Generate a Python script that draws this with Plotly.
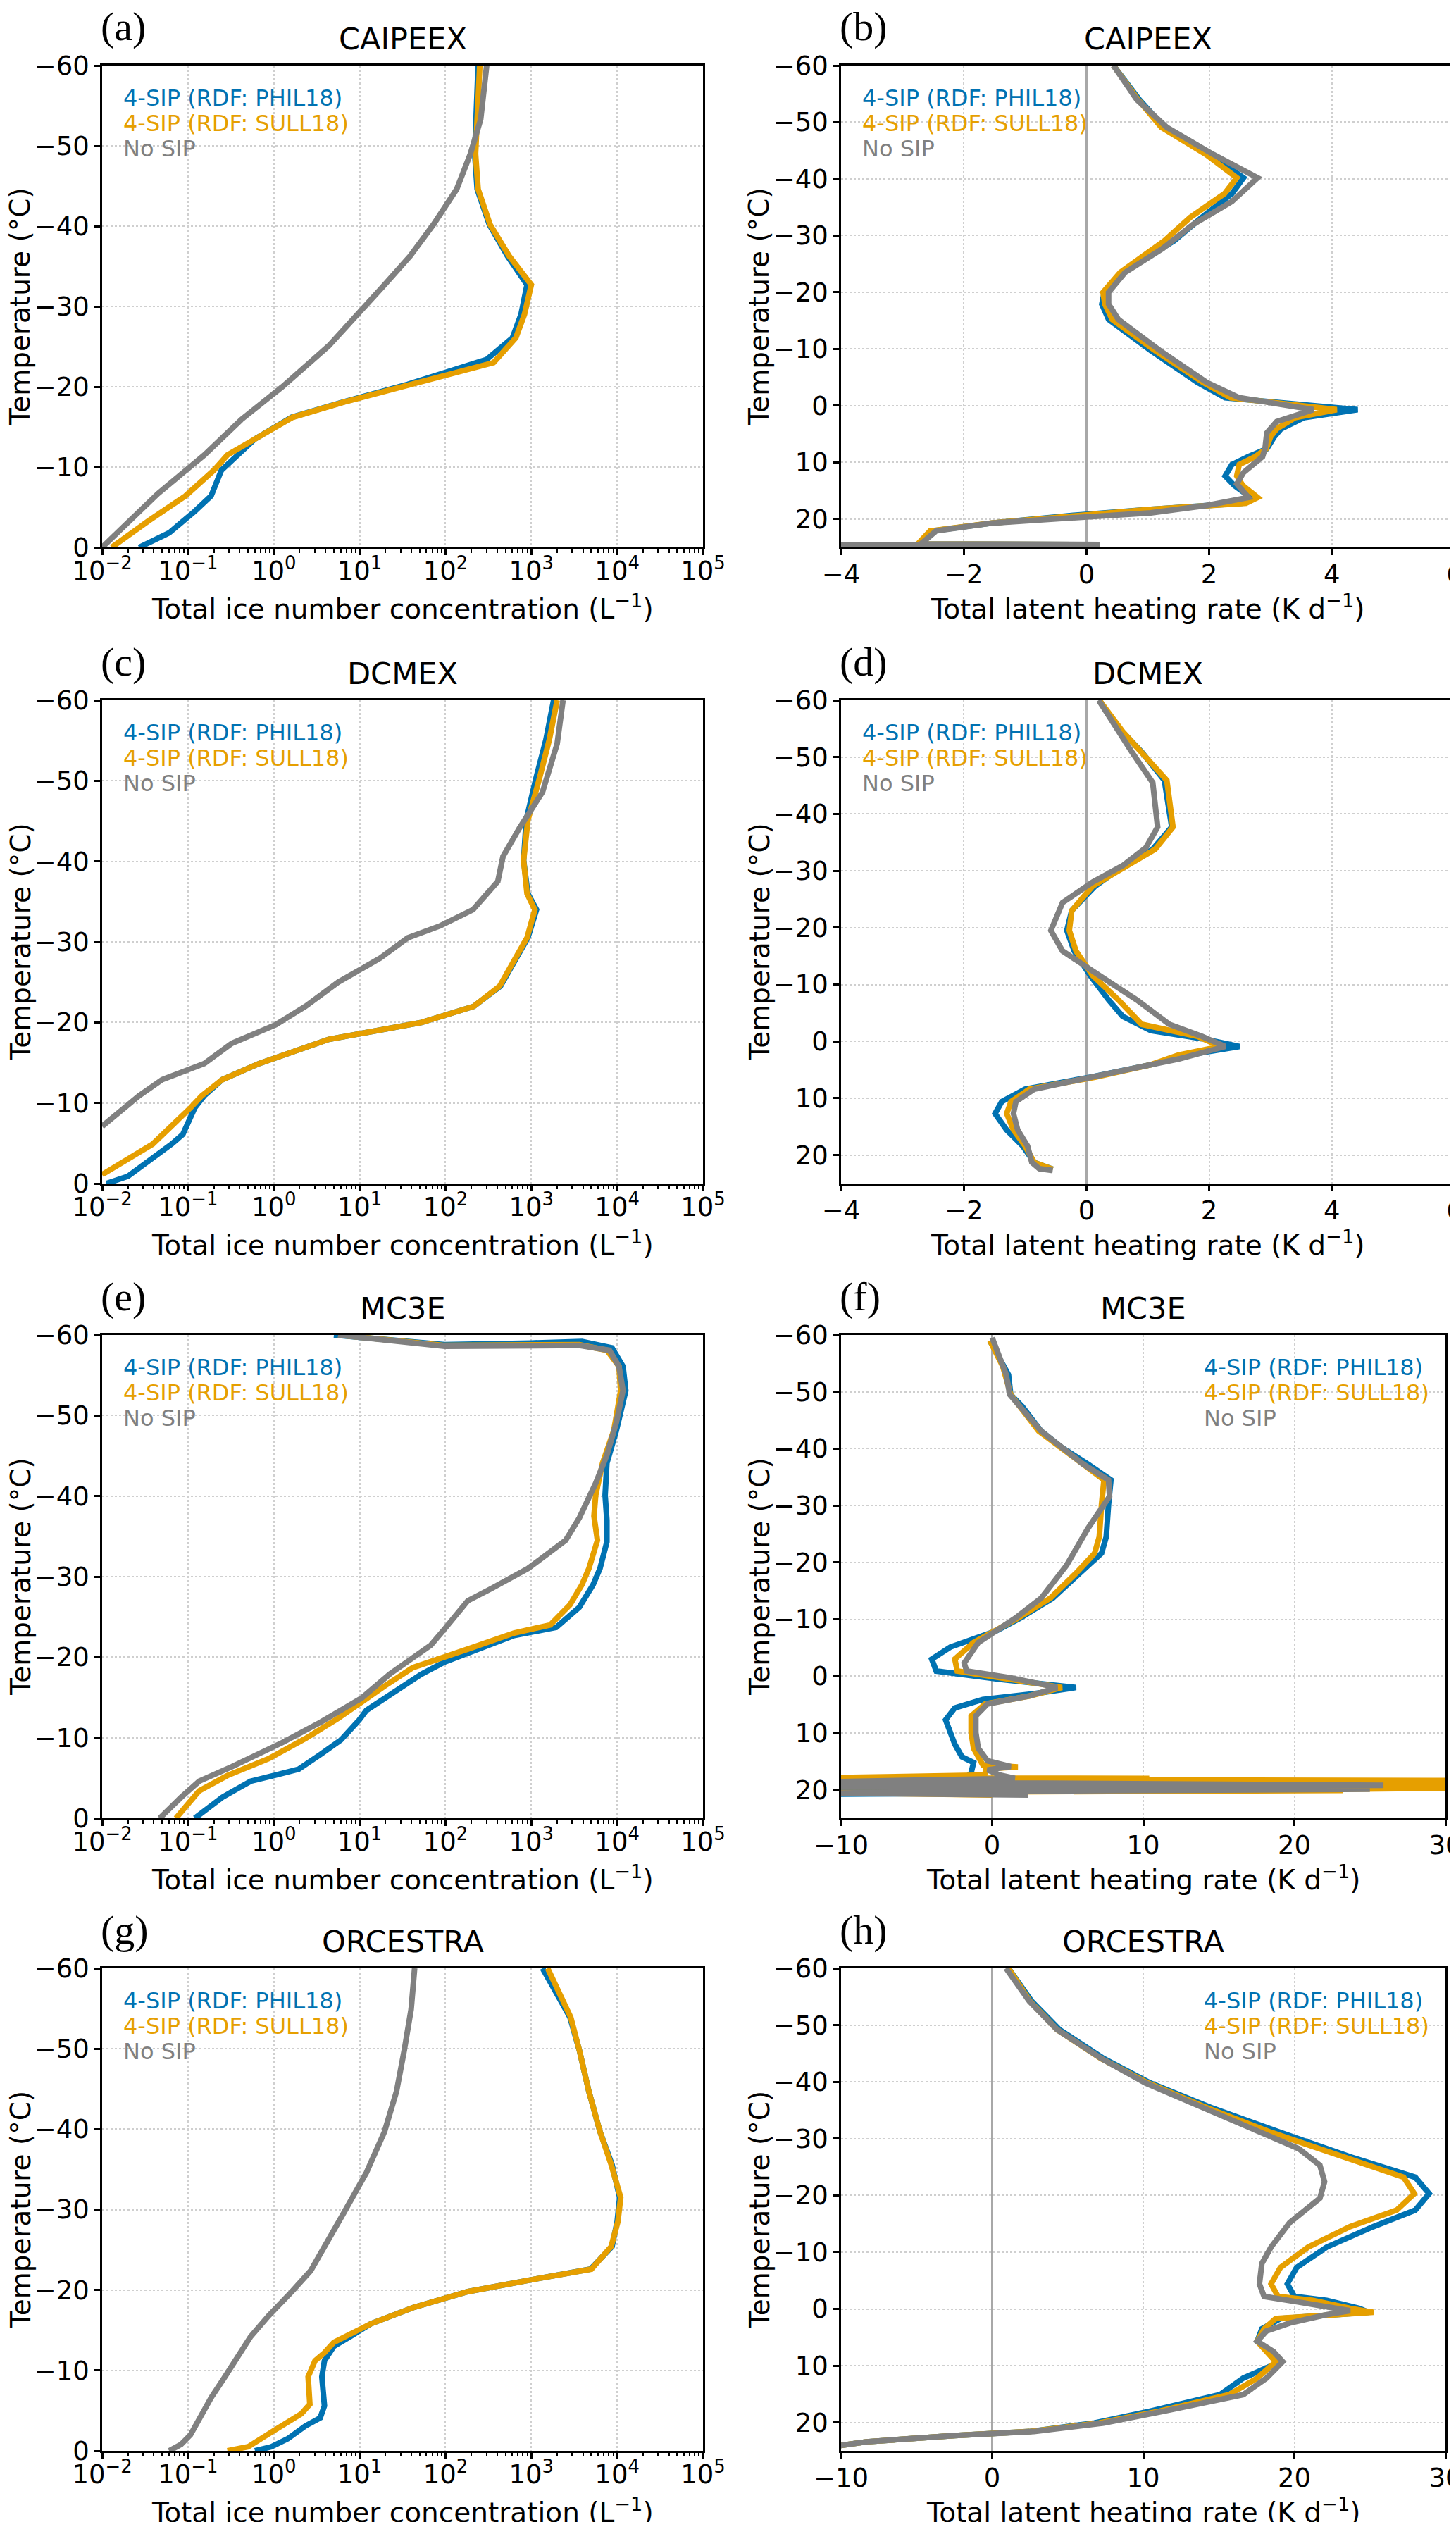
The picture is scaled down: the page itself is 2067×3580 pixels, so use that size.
import plotly.graph_objects as go

W, H = 2067, 3580

BLUE = "#0072B2"
ORANGE = "#E69F00"
GREY = "#808080"

# ---------------- data ----------------
# (a) CAIPEEX - total ice number concentration (L-1) vs temperature (degC)
a_phil_t = [-60, -53.3, -49, -44.6, -40.2, -36.3, -32.7, -29, -26.1, -23.4, -20.3, -18.1, -16.2, -13.5, -11.5, -9.6, -6.4, -4.5, -1.8, 0]
a_phil_n = [240, 229, 219, 234, 324, 525, 891, 759, 603, 302, 36.3, 6.46, 1.62, 0.603, 0.372, 0.245, 0.186, 0.120, 0.0603, 0.0269]
a_sull_t = [-60, -53.3, -49, -44.6, -40.2, -36.3, -32.7, -29, -26.1, -23, -20.3, -18.1, -16.2, -13.5, -11.5, -9.6, -6.4, -3.3, 0]
a_sull_n = [251, 234, 224, 240, 331, 550, 1000, 832, 661, 363, 38.0, 6.61, 1.66, 0.603, 0.288, 0.200, 0.0933, 0.0347, 0.0129]
a_nosip_t = [-60, -53.3, -49, -44.6, -40.2, -36.3, -32.7, -29, -25.1, -20, -15.9, -11.5, -6.7, 0]
a_nosip_n = [302, 257, 195, 135, 72.4, 38.9, 19.5, 9.33, 4.37, 1.26, 0.417, 0.155, 0.0447, 0.0100]

# (b) CAIPEEX - total latent heating rate (K d-1)
b_phil_t = [-60, -54, -49.1, -44.3, -40.2, -37.4, -33.2, -29.1, -23.5, -20, -17.9, -15.2, -9.7, -4.1, -1.4, 0.7, 2.1, 4.1, 5.5, 7.6, 9.0,
            10.4, 12.4, 14.1, 16.2, 17.2, 18.3, 19.3, 20.7, 22.1, 23.5, 24.4, 24.5, 24.6]
b_phil_q = [0.44, 0.86, 1.27, 2.03, 2.56, 2.37, 1.88, 1.43, 0.59, 0.29, 0.25, 0.36, 1.05, 1.81, 2.26, 4.42, 3.55, 3.17, 3.06, 2.94, 2.64,
            2.37, 2.26, 2.41, 2.68, 2.53, 1.05, -0.17, -1.53, -2.52, -2.63, -2.65, 0.1, -5]
b_sull_t = [-60, -54, -49.1, -44.3, -40.2, -37.4, -33.2, -29.1, -23.5, -20, -17.9, -15.2, -9.7, -4.1, -1.4, 0.7, 2.1, 4.1, 5.5, 7.6, 9.0,
            10.4, 12.4, 14.1, 16.2, 17.2, 18.3, 19.3, 20.7, 22.1, 23.5, 24.4, 24.5, 24.6]
b_sull_q = [0.44, 0.84, 1.22, 1.95, 2.45, 2.25, 1.69, 1.27, 0.55, 0.27, 0.30, 0.42, 1.12, 1.90, 2.35, 4.08, 3.40, 3.10, 3.00, 2.93, 2.75,
            2.49, 2.45, 2.55, 2.79, 2.60, 1.05, -0.15, -1.55, -2.55, -2.67, -2.75, 0.0, -5]
b_nosip_t = [-60, -54, -49.1, -44.3, -40.2, -36, -31.9, -27.7, -23.5, -20, -17.9, -15.2, -9.7, -4.1, -1.4, 0.7, 2.8, 4.8, 7.6, 9.0,
             11.8, 13.8, 16.2, 17.6, 18.9, 19.6, 20.7, 22.1, 23.5, 24.4, 24.5, 24.6]
b_nosip_q = [0.44, 0.82, 1.31, 2.07, 2.79, 2.37, 1.73, 1.24, 0.63, 0.36, 0.36, 0.52, 1.20, 1.96, 2.49, 3.70, 3.10, 2.94, 2.91, 2.87,
             2.56, 2.45, 2.64, 1.96, 1.05, -0.02, -1.53, -2.45, -2.60, -2.70, 0.22, -5]

# (c) DCMEX - ice number
c_phil_t = [-60, -55.1, -50.1, -45.1, -40.1, -36, -34, -30.5, -27.5, -24.5, -22, -20, -17.9, -16.4, -14.9, -12.9, -10.9, -9.4, -6.1, -4.9, -2.4, -0.9, 0]
c_phil_n = [1820, 1480, 1120, 871, 813, 912, 1150, 912, 631, 437, 214, 52.5, 4.37, 1.62, 0.676, 0.251, 0.155, 0.120, 0.0871, 0.0646, 0.0309, 0.0200, 0.0112]
c_sull_t = [-60, -55.1, -50.1, -45.1, -40.1, -36, -34, -30.5, -27.5, -24.5, -22, -20, -17.9, -16.4, -14.9, -12.9, -10.9, -9.4, -6.4, -4.9, -1.1]
c_sull_n = [2000, 1620, 1230, 912, 813, 891, 1100, 891, 617, 427, 214, 52.5, 4.37, 1.62, 0.676, 0.251, 0.145, 0.107, 0.0537, 0.0389, 0.0100]
c_nosip_t = [-60, -54.6, -48.6, -44.1, -40.6, -37.5, -34, -32, -30.5, -28, -27, -25, -22, -19.7, -17.4, -14.9, -12.9, -10.9, -7.1]
c_nosip_n = [2340, 2000, 1350, 724, 468, 407, 209, 87.1, 36.3, 17.4, 12.0, 5.62, 2.34, 1.05, 0.324, 0.155, 0.0501, 0.0269, 0.0100]

# (d) DCMEX - latent heating
d_phil_t = [-60, -55.2, -50.9, -45.9, -37.7, -33.8, -30.2, -27.3, -23, -19.5, -15.9, -11.6, -7.3, -4.4, -1.9, -0.5, 0.9, 2.4, 4.1,
            6.3, 8.4, 10.6, 12.7, 15.6, 18.4, 21.3, 22.5]
d_phil_q = [0.21, 0.52, 0.90, 1.27, 1.39, 1.08, 0.52, 0.14, -0.24, -0.32, -0.20, 0.06, 0.36, 0.59, 1.05, 1.88, 2.49, 1.65, 1.05,
            0.06, -1.0, -1.38, -1.49, -1.30, -1.04, -0.85, -0.55]
d_sull_t = [-60, -54.5, -45.9, -37.7, -33.8, -27.3, -23, -19.5, -15.9, -11.6, -7.3, -3, -0.9, 0.9, 2.4, 4.1, 6.3, 8.4, 10.6, 12.7,
            15.6, 18.4, 21.3, 22.5]
d_sull_q = [0.21, 0.59, 1.31, 1.41, 1.12, 0.10, -0.24, -0.28, -0.17, 0.10, 0.52, 0.90, 1.81, 2.19, 1.50, 1.05, 0.14, -0.93, -1.23, -1.30,
            -1.19, -1.0, -0.85, -0.55]
d_nosip_t = [-60, -55.2, -50.9, -45.5, -37.7, -34.1, -30.9, -28, -24.4, -19.5, -15.9, -11.6, -7.3, -3, -0.9, 0.9, 3.1, 4.1, 6.3, 8.4,
             10.6, 12.7, 15.6, 18.4, 21.3, 22.4, 22.7]
d_nosip_q = [0.20, 0.48, 0.74, 1.08, 1.16, 0.97, 0.59, 0.10, -0.39, -0.58, -0.39, 0.21, 0.82, 1.35, 1.88, 2.26, 1.50, 1.05, 0.10, -0.85,
             -1.15, -1.19, -1.12, -0.96, -0.89, -0.77, -0.55]

# (e) MC3E - ice number
e_phil_t = [-60, -58.8, -59.0, -59.2, -58.4, -56.1, -53.1, -48.1, -44.1, -40.1, -37, -34.3, -31, -29, -26.2, -23.7, -22.7, -19.4,
            -17.9, -15.4, -13.4, -12.2, -9.7, -7.9, -6.1, -5.3, -4.6, -2.6, 0]
e_phil_n = [5.01, 97.7, 1000, 3890, 8710, 11700, 12600, 9770, 7590, 7240, 7590, 7590, 6310, 5250, 3630, 1950, 631, 97.7,
            52.5, 22.4, 12.0, 9.89, 6.03, 3.47, 1.95, 1.0, 0.537, 0.251, 0.120]
e_sull_t = [-60, -58.7, -58.8, -58.1, -56.1, -53.1, -48.1, -44.1, -40.1, -37.5, -34.5, -31, -29, -26.5, -24, -23, -21, -20, -18.7,
            -16.4, -15.2, -12.4, -9.9, -7.4, -5.3, -3.4, 0]
e_sull_n = [5.62, 97.7, 3630, 7590, 10500, 11000, 9120, 6760, 5620, 5370, 5890, 4680, 3890, 2820, 1660, 631, 182, 97.7, 41.7,
            19.5, 13.5, 5.62, 2.34, 0.871, 0.288, 0.135, 0.0724]
e_nosip_t = [-60, -58.6, -58.7, -58.1, -56.1, -53.1, -49.1, -45.1, -41.6, -37.3, -34.5, -31, -28.5, -27, -23.5, -21.5, -17.9, -14.9,
             -11.9, -9.4, -6.4, -4.6, -2.6, 0]
e_nosip_n = [5.62, 97.7, 3630, 8130, 10500, 11700, 9770, 7590, 5620, 3630, 2510, 912, 339, 182, 97.7, 67.6, 22.4, 10.5,
             3.47, 1.26, 0.324, 0.135, 0.0832, 0.0468]

# (f) MC3E - latent heating
f_phil_t = [-59, -54.5, -53, -49.5, -47.4, -43.1, -40.2, -37.3, -34.5, -30.2, -24.5, -21.6, -18.1, -13.7, -10.2, -8, -5.1, -3, -0.9, 0.6,
            2, 3.1, 4.1, 5.6, 7.7, 9.9, 12, 14.2, 15.2, 17, 17.6, 17.9, 18.0, 19.4, 19.4, 19.6, 20.5, 20.8]
f_phil_q = [-0.15, 0.77, 1.08, 1.23, 2.0, 3.24, 4.62, 6.32, 7.86, 7.70, 7.55, 7.24, 5.86, 4.0, 1.85, 0.31, -2.77, -4.0, -3.70, 0.62,
            5.55, 2.77, -0.62, -2.47, -3.08, -2.77, -2.47, -2.0, -1.23, -1.39, -1.6, -8.3, -1.3, -1.0, 35, -12, 2, -12]
f_sull_t = [-59, -54.5, -49.5, -43.1, -37.3, -34.5, -30.2, -24.5, -21.6, -18.1, -13.7, -10.2, -5.9, -3, -0.9, 0.6, 2, 3.5, 4.9, 7,
            9.9, 12.7, 15.6, 16.0, 16.3, 17.4, 17.9, 18.0, 18.2, 18.4, 18.9, 19.6, 20.0, 20.1, 20.5, 20.9]
f_sull_q = [-0.15, 0.70, 1.23, 3.08, 6.01, 7.40, 7.24, 7.09, 6.78, 5.55, 3.85, 1.70, -1.23, -2.47, -2.31, 1.23, 4.62, 2.47, -0.46, -1.39,
            -1.39, -1.23, -0.62, 1.70, -0.4, -0.5, -11, 10.4, -11, 35, -11, 35, 18.5, 23.2, -11, 0]
f_nosip_t = [-59.5, -53.1, -49.5, -43.1, -37.3, -34.5, -31.6, -25.9, -19.5, -13.7, -10.2, -5.9, -2.3, -0.9, 0.3, 2, 3.5, 4.9, 7, 9.9,
             12.7, 14.9, 15.9, 16.5, 17.4, 18.0, 18.6, 18.9, 19.2, 19.5, 19.9, 20.2, 20.6, 20.9]
f_nosip_q = [0.0, 0.92, 1.17, 3.24, 6.01, 7.70, 7.77, 6.32, 4.93, 3.24, 1.54, -0.92, -1.85, -1.69, 1.23, 4.31, 2.47, -0.31, -1.08, -1.08,
             -0.92, -0.31, 1.23, -0.3, 0.5, 1.5, -11, 2.4, 25.9, -11, 25, 2.4, -11, 2.4]

# (g) ORCESTRA - ice number
g_phil_t = [-60, -57, -53.9, -49.8, -44.7, -39.7, -35.6, -31.5, -28.5, -25.4, -22.6, -21.4, -19.8, -17.8, -15.8, -14.2, -13, -11.2,
            -9.2, -5.6, -4.1, -3.1, -1.5, -0.5, 0]
g_phil_n = [1350, 1950, 2820, 3630, 4680, 6310, 8710, 10700, 10000, 8710, 4900, 1170, 182, 41.7, 13.5, 7.76, 5.01, 3.89,
            3.63, 3.89, 3.47, 2.34, 1.45, 0.933, 0.603]
g_sull_t = [-60, -57, -53.9, -49.8, -44.7, -39.7, -35.6, -31.5, -28.5, -25.4, -22.6, -21.4, -19.8, -17.8, -15.8, -13.5, -12.2, -11.2,
            -9.2, -5.8, -4.6, -2.5, -0.5, 0]
g_sull_n = [1550, 2090, 2880, 3630, 4680, 6310, 8510, 11000, 10200, 8510, 5010, 1170, 182, 41.7, 13.5, 5.01, 3.89, 3.02,
            2.51, 2.63, 2.09, 1.0, 0.501, 0.288]
g_nosip_t = [-60, -54.9, -49.8, -44.7, -39.7, -34.6, -29.5, -25.4, -22.4, -19.8, -16.8, -14.2, -11.7, -9.2, -6.6, -4.1, -2, -0.8, 0]
g_nosip_n = [43.7, 39.8, 33.1, 26.9, 19.5, 12.0, 6.46, 3.89, 2.69, 1.62, 0.871, 0.537, 0.372, 0.269, 0.186, 0.135, 0.107, 0.0832, 0.0603]

# (h) ORCESTRA - latent heating
h_phil_t = [-60, -54.2, -49.2, -44.1, -39.8, -35.5, -31.1, -26.8, -23.2, -20.3, -17.4, -14.5, -10.9, -7.3, -4.4, -2.2, -1.5, -0.1,
            0.6, 1.7, 3.5, 5.7, 7.5, 9.3, 12.2, 15.1, 18, 20.1, 21.6, 22.3, 23.4, 24.1, 24.8]
h_phil_q = [1.08, 2.62, 4.46, 7.38, 10.46, 14.46, 19.08, 23.69, 28.0, 28.92, 28.0, 25.23, 22.15, 20.15, 19.54, 20.0, 22.15, 24.31,
            24.92, 19.08, 17.85, 17.54, 18.31, 19.08, 16.62, 15.08, 10.46, 6.77, 2.46, -2.46, -8.31, -10.5, -12]
h_sull_t = [-60, -54.2, -49.2, -44.1, -39.8, -35.5, -31.1, -26.8, -23.2, -20.3, -17.4, -14.5, -10.9, -7.3, -4.4, -2.2, -1.5, -0.1,
            0.6, 1.7, 3.5, 5.7, 7.5, 9.3, 12.2, 15.1, 18, 20.1, 21.6, 22.3, 23.4, 24.1, 24.8]
h_sull_q = [1.08, 2.50, 4.30, 7.20, 10.30, 14.15, 18.46, 23.08, 27.23, 27.94, 26.77, 23.69, 20.92, 19.08, 18.46, 18.92, 21.23, 23.69,
            25.23, 18.77, 18.0, 17.54, 18.15, 18.77, 17.54, 15.69, 11.08, 7.08, 2.46, -2.46, -8.31, -10.5, -12]
h_nosip_t = [-60, -54.2, -49.2, -44.1, -39.8, -35.5, -31.1, -28.2, -25.3, -22.4, -19.5, -15.2, -10.9, -8, -4.4, -2.2, -1.2, 0.3,
             1, 2.5, 3.9, 5.7, 7.5, 9.3, 12.2, 15.1, 18, 20.1, 21.6, 22.3, 23.4, 24.1, 24.8]
h_nosip_q = [0.92, 2.46, 4.30, 7.23, 10.15, 13.85, 17.85, 20.31, 21.69, 22.0, 21.69, 19.69, 18.46, 17.85, 17.69, 18.0, 20.31, 23.69,
             22.15, 19.69, 18.15, 17.54, 18.62, 19.23, 18.15, 16.62, 11.38, 7.38, 2.77, -2.46, -8.31, -10.5, -12]

campaigns = ["CAIPEEX", "DCMEX", "MC3E", "ORCESTRA"]
series_names = ["4-SIP (RDF: PHIL18)", "4-SIP (RDF: SULL18)", "No SIP"]
series_colors = [BLUE, ORANGE, GREY]
ice_tickvals = [1e-2, 1e-1, 1e0, 1e1, 1e2, 1e3, 1e4, 1e5]
ice_ticktext = ["10<sup>−2</sup>", "10<sup>−1</sup>", "10<sup>0</sup>", "10<sup>1</sup>",
                "10<sup>2</sup>", "10<sup>3</sup>", "10<sup>4</sup>", "10<sup>5</sup>"]
x_title_ice = "Total ice number concentration (L<sup>−1</sup>)"
x_title_lh = "Total latent heating rate (K d<sup>−1</sup>)"
y_title = "Temperature (°C)"

panels = [
    ("a", 0, "ice", [(a_phil_t, a_phil_n), (a_sull_t, a_sull_n), (a_nosip_t, a_nosip_n)]),
    ("b", 0, "lh", [(b_phil_t, b_phil_q), (b_sull_t, b_sull_q), (b_nosip_t, b_nosip_q)]),
    ("c", 1, "ice", [(c_phil_t, c_phil_n), (c_sull_t, c_sull_n), (c_nosip_t, c_nosip_n)]),
    ("d", 1, "lh", [(d_phil_t, d_phil_q), (d_sull_t, d_sull_q), (d_nosip_t, d_nosip_q)]),
    ("e", 2, "ice", [(e_phil_t, e_phil_n), (e_sull_t, e_sull_n), (e_nosip_t, e_nosip_n)]),
    ("f", 2, "lh", [(f_phil_t, f_phil_q), (f_sull_t, f_sull_q), (f_nosip_t, f_nosip_q)]),
    ("g", 3, "ice", [(g_phil_t, g_phil_n), (g_sull_t, g_sull_n), (g_nosip_t, g_nosip_n)]),
    ("h", 3, "lh", [(h_phil_t, h_phil_q), (h_sull_t, h_sull_q), (h_nosip_t, h_nosip_q)]),
]

# plot boxes in pixels: left, right, top, bottom
boxes = {
    "a": (137, 990, 85, 769), "b": (1186, 2057, 85, 769),
    "c": (137, 990, 986, 1672), "d": (1186, 2057, 986, 1672),
    "e": (137, 990, 1887, 2573), "f": (1186, 2044, 1887, 2573),
    "g": (137, 990, 2786, 3471), "h": (1186, 2044, 2786, 3471),
}
lh_xrange = {"b": [-4, 6], "d": [-4, 6], "f": [-10, 30], "h": [-10, 30]}
lh_dtick = {"b": 2, "d": 2, "f": 10, "h": 10}
legend_right = {"f", "h"}


def px(x):
    return x / W


def py(y):
    return 1 - y / H


FONT = "DejaVu Sans"
fig = go.Figure()
annotations = []

for k, (lab, row, kind, data) in enumerate(panels, start=1):
    l, r, t, b = boxes[lab]
    xa, ya = f"x{k}", f"y{k}"
    for (temps, vals), name, col in zip(data, series_names, series_colors):
        fig.add_trace(go.Scatter(x=vals, y=temps, mode="lines", name=name,
                                 line=dict(color=col, width=8), showlegend=False,
                                 xaxis=xa, yaxis=ya))

    common = dict(showline=True, mirror=True, linecolor="black", linewidth=2.5,
                  ticks="outside", ticklen=8, tickwidth=2.5, tickcolor="black",
                  showgrid=True, gridcolor="#cfcfcf", griddash="dot", gridwidth=1.5,
                  ticklabeloverflow="allow", automargin=False,
                  tickfont=dict(family=FONT, size=37, color="black"))
    if kind == "ice":
        xaxis = dict(type="log", range=[-2, 5], tickvals=ice_tickvals, ticktext=ice_ticktext,
                     zeroline=False, ticklabelstandoff=-9,
                     minor=dict(ticks="outside", ticklen=5, tickwidth=2, tickcolor="black",
                                dtick="D1", showgrid=False), **common)
        yaxis = dict(range=[0, -60], dtick=10, tick0=0, zeroline=False, **common)
    else:
        xaxis = dict(range=lh_xrange[lab], dtick=lh_dtick[lab], tick0=0, ticklabelstandoff=-4,
                     zeroline=True, zerolinecolor="#a8a8a8", zerolinewidth=3, **common)
        yaxis = dict(range=[25, -60], dtick=10, tick0=0, zeroline=False, **common)
    xaxis.update(domain=[px(l), px(r)], anchor=ya)
    yaxis.update(domain=[py(b), py(t)], anchor=xa)
    fig.layout[f"xaxis{k}"] = xaxis
    fig.layout[f"yaxis{k}"] = yaxis

    cx = (l + r) / 2
    # panel letter
    annotations.append(dict(text=f"({lab})", x=px(l - 4), y=py(t - 55), xref="paper", yref="paper",
                            xanchor="left", yanchor="middle", showarrow=False,
                            font=dict(family="Liberation Serif", size=58, color="black")))
    # title
    annotations.append(dict(text=campaigns[row], x=px(cx), y=py(t), xref="paper", yref="paper",
                            xanchor="center", yanchor="bottom", yshift=11, showarrow=False,
                            font=dict(family=FONT, size=43, color="black")))
    # axis titles
    annotations.append(dict(text=x_title_ice if kind == "ice" else x_title_lh, x=px(cx), y=py(b + 85),
                            xref="paper", yref="paper", xanchor="center", yanchor="middle",
                            showarrow=False, font=dict(family=FONT, size=39, color="black")))
    annotations.append(dict(text=y_title, x=px(l - 116), y=py((t + b) / 2), xref="paper", yref="paper",
                            xanchor="center", yanchor="middle", textangle=-90, showarrow=False,
                            font=dict(family=FONT, size=39, color="black")))
    # legend (coloured text)
    lx = r - 345 if lab in legend_right else l + 28
    for j, (name, col) in enumerate(zip(series_names, series_colors)):
        annotations.append(dict(text=name, x=px(lx), y=py(t + 46 + 36 * j), xref="paper", yref="paper",
                                xanchor="left", yanchor="middle", showarrow=False,
                                font=dict(family=FONT, size=32, color=col)))

fig.update_layout(width=W, height=H, margin=dict(l=0, r=0, t=0, b=0, autoexpand=False),
                  paper_bgcolor="white", plot_bgcolor="white",
                  annotations=annotations, showlegend=False)

fig.write_html("out.html")
